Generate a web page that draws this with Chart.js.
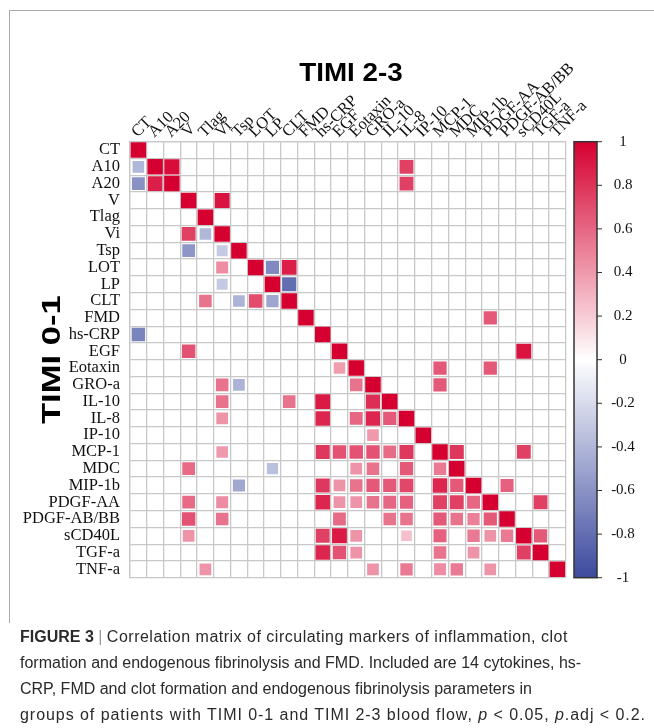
<!DOCTYPE html>
<html>
<head>
<meta charset="utf-8">
<script src="https://cdn.jsdelivr.net/npm/chart.js@4.4.1/dist/chart.umd.min.js"></script>
<style>
  html, body { margin: 0; padding: 0; background: #fff; }
  body { width: 654px; height: 728px; position: relative; overflow: hidden; }
  #frame { position: absolute; left: 9px; top: 10px; width: 700px; height: 612px;
           border-left: 1.5px solid #aaa; border-top: 1.5px solid #aaa; }
  #wrap { position: absolute; left: 0; top: 0; width: 654px; height: 625px; }
  #caption { position: absolute; left: 20px; top: 624px; white-space: nowrap;
             font-family: "Liberation Sans", Arial, sans-serif; font-size: 16px;
             line-height: 26px; color: #2a2a2a; }
  #caption .sep { color: #999; }
  #caption .l1 { letter-spacing: 0.5px; }
  #caption .l4 { letter-spacing: 0.95px; }
</style>
</head>
<body>
<div id="frame"></div>
<div id="wrap"><canvas id="corrChart" width="654" height="625"></canvas></div>
<div id="caption"><b>FIGURE 3</b> <span class="sep">|</span> <span class="l1">Correlation matrix of circulating markers of inflammation, clot</span><br>formation and endogenous fibrinolysis and FMD. Included are 14 cytokines, hs-<br>CRP, FMD and clot formation and endogenous fibrinolysis parameters in<br><span class="l4">groups of patients with TIMI 0-1 and TIMI 2-3 blood flow, <i>p</i> &lt; 0.05, <i>p</i>.adj &lt; 0.2.</span></div>
<script>
// markers (rows = TIMI 0-1, columns = TIMI 2-3)
const markers = ['CT', 'A10', 'A20', 'V', 'Tlag', 'Vi', 'Tsp', 'LOT', 'LP', 'CLT', 'FMD', 'hs-CRP', 'EGF',
  'Eotaxin', 'GRO-a', 'IL-10', 'IL-8', 'IP-10', 'MCP-1', 'MDC', 'MIP-1b', 'PDGF-AA', 'PDGF-AB/BB',
  'sCD40L', 'TGF-a', 'TNF-a'];

// correlation values, 0 = not significant (blank cell)
const corr = [
  [1, 0, 0, 0, 0, 0, 0, 0, 0, 0, 0, 0, 0, 0, 0, 0, 0, 0, 0, 0, 0, 0, 0, 0, 0, 0],
  [-.4, 1, .95, 0, 0, 0, 0, 0, 0, 0, 0, 0, 0, 0, 0, 0, .75, 0, 0, 0, 0, 0, 0, 0, 0, 0],
  [-.6, .88, 1, 0, 0, 0, 0, 0, 0, 0, 0, 0, 0, 0, 0, 0, .75, 0, 0, 0, 0, 0, 0, 0, 0, 0],
  [0, 0, 0, 1, 0, .92, 0, 0, 0, 0, 0, 0, 0, 0, 0, 0, 0, 0, 0, 0, 0, 0, 0, 0, 0, 0],
  [0, 0, 0, 0, 1, 0, 0, 0, 0, 0, 0, 0, 0, 0, 0, 0, 0, 0, 0, 0, 0, 0, 0, 0, 0, 0],
  [0, 0, 0, .75, -.4, 1, 0, 0, 0, 0, 0, 0, 0, 0, 0, 0, 0, 0, 0, 0, 0, 0, 0, 0, 0, 0],
  [0, 0, 0, -.58, 0, -.3, 1, 0, 0, 0, 0, 0, 0, 0, 0, 0, 0, 0, 0, 0, 0, 0, 0, 0, 0, 0],
  [0, 0, 0, 0, 0, .45, 0, 1, -.65, .88, 0, 0, 0, 0, 0, 0, 0, 0, 0, 0, 0, 0, 0, 0, 0, 0],
  [0, 0, 0, 0, 0, -.3, 0, 0, 1, -.8, 0, 0, 0, 0, 0, 0, 0, 0, 0, 0, 0, 0, 0, 0, 0, 0],
  [0, 0, 0, 0, .55, 0, -.42, .7, -.5, 1, 0, 0, 0, 0, 0, 0, 0, 0, 0, 0, 0, 0, 0, 0, 0, 0],
  [0, 0, 0, 0, 0, 0, 0, 0, 0, 0, 1, 0, 0, 0, 0, 0, 0, 0, 0, 0, 0, .65, 0, 0, 0, 0],
  [-.68, 0, 0, 0, 0, 0, 0, 0, 0, 0, 0, 1, 0, 0, 0, 0, 0, 0, 0, 0, 0, 0, 0, 0, 0, 0],
  [0, 0, 0, .68, 0, 0, 0, 0, 0, 0, 0, 0, 1, 0, 0, 0, 0, 0, 0, 0, 0, 0, 0, .92, 0, 0],
  [0, 0, 0, 0, 0, 0, 0, 0, 0, 0, 0, 0, .38, 1, 0, 0, 0, 0, .65, 0, 0, .65, 0, 0, 0, 0],
  [0, 0, 0, 0, 0, .55, -.42, 0, 0, 0, 0, 0, 0, .55, 1, 0, 0, 0, .65, 0, 0, 0, 0, 0, 0, 0],
  [0, 0, 0, 0, 0, .55, 0, 0, 0, .55, 0, .9, 0, 0, .82, 1, 0, 0, 0, 0, 0, 0, 0, 0, 0, 0],
  [0, 0, 0, 0, 0, .42, 0, 0, 0, 0, 0, .85, 0, .6, .85, .65, 1, 0, 0, 0, 0, 0, 0, 0, 0, 0],
  [0, 0, 0, 0, 0, 0, 0, 0, 0, 0, 0, 0, 0, 0, .4, 0, 0, 1, 0, 0, 0, 0, 0, 0, 0, 0],
  [0, 0, 0, 0, 0, .4, 0, 0, 0, 0, 0, .78, .68, .68, .68, .58, .78, 0, 1, .78, 0, 0, 0, .75, 0, 0],
  [0, 0, 0, .58, 0, 0, 0, 0, -.35, 0, 0, 0, 0, .42, .55, 0, .65, 0, .52, 1, 0, 0, 0, 0, 0, 0],
  [0, 0, 0, 0, 0, 0, -.48, 0, 0, 0, 0, .78, .42, .55, .65, .65, .72, 0, .85, .65, 1, 0, .62, 0, 0, 0],
  [0, 0, 0, .58, 0, .45, 0, 0, 0, 0, 0, .85, .42, .42, .55, .6, .62, 0, .75, .75, .6, 1, 0, 0, .75, 0],
  [0, 0, 0, .68, 0, .55, 0, 0, 0, 0, 0, 0, .58, 0, 0, .55, .55, 0, .65, .55, .5, .65, 1, 0, 0, 0],
  [0, 0, 0, .42, 0, 0, 0, 0, 0, 0, 0, .75, .9, .42, 0, 0, .25, 0, .62, 0, .52, .42, .52, 1, .65, 0],
  [0, 0, 0, 0, 0, 0, 0, 0, 0, 0, 0, .85, .68, .42, 0, 0, 0, 0, .55, 0, .42, 0, 0, .75, 1, 0],
  [0, 0, 0, 0, .42, 0, 0, 0, 0, 0, 0, 0, 0, 0, .42, 0, .52, 0, .45, .52, 0, .42, 0, 0, 0, 1]
];

// colour bar ticks
const cbTicks = [1, 0.8, 0.6, 0.4, 0.2, 0, -0.2, -0.4, -0.6, -0.8, -1];

const serif = '"Liberation Serif", "Times New Roman", serif';
const sans = '"Liberation Sans", Arial, sans-serif';

function corrColor(v) {
  const a = Math.min(1, Math.abs(v));
  const end = v >= 0 ? [214, 0, 48] : [60, 74, 158];
  const c = end.map(e => Math.round(255 + (e - 255) * a));
  return 'rgb(' + c.join(',') + ')';
}

// side of the square in px grows with |r|
function squareSide(v) {
  return 9 + 6.5 * Math.abs(v);
}

const points = [];
corr.forEach((row, r) => {
  row.forEach((v, c) => {
    if (v !== 0) points.push({ x: markers[c], y: markers[r], v: v });
  });
});

// titles + colour bar
const decorPlugin = {
  id: 'decor',
  afterDraw(chart) {
    const { ctx, chartArea } = chart;
    const cb = chart.scales.cb;
    ctx.save();

    ctx.fillStyle = '#000';
    ctx.font = 'bold 26px ' + sans;
    ctx.textAlign = 'center';
    ctx.textBaseline = 'middle';
    ctx.save();
    ctx.translate(351, 74);
    ctx.scale(1.07, 1);
    ctx.fillText('TIMI 2-3', 0, 0);
    ctx.restore();

    ctx.save();
    ctx.translate(53, (chartArea.top + chartArea.bottom) / 2);
    ctx.rotate(-Math.PI / 2);
    ctx.scale(1.33, 1);
    ctx.fillText('TIMI 0-1', 0, 0);
    ctx.restore();

    const x0 = 574, x1 = 597;
    const top = cb.getPixelForValue(1), bottom = cb.getPixelForValue(-1);
    const grad = ctx.createLinearGradient(0, top, 0, bottom);
    for (let i = 0; i <= 20; i++) {
      grad.addColorStop(i / 20, corrColor(1 - i / 10));
    }
    ctx.fillStyle = grad;
    ctx.fillRect(x0, top, x1 - x0, bottom - top);
    ctx.strokeStyle = '#333';
    ctx.lineWidth = 1.5;
    ctx.strokeRect(x0, top, x1 - x0, bottom - top);

    ctx.font = '15px ' + serif;
    ctx.fillStyle = '#111';
    ctx.lineWidth = 1;
    cbTicks.forEach(t => {
      const y = cb.getPixelForValue(t);
      ctx.beginPath();
      ctx.moveTo(x1, y);
      ctx.lineTo(x1 + 5, y);
      ctx.stroke();
      ctx.fillText(String(t), 623, y);
    });
    ctx.restore();
  }
};

new Chart(document.getElementById('corrChart'), {
  type: 'scatter',
  data: {
    datasets: [{
      data: points,
      pointStyle: 'rect',
      pointRadius: c => squareSide(c.raw.v) / (2 * Math.SQRT1_2),
      pointBackgroundColor: c => corrColor(c.raw.v),
      pointBorderWidth: 0
    }]
  },
  options: {
    responsive: false,
    animation: false,
    events: [],
    layout: { padding: { left: 0, top: 0, right: 88.3, bottom: 47.3 } },
    plugins: { legend: { display: false }, tooltip: { enabled: false } },
    scales: {
      x: {
        type: 'category',
        labels: markers,
        position: 'top',
        offset: true,
        grid: { offset: true, color: '#c8c8c8', lineWidth: 1.3, drawTicks: false },
        border: { color: '#c8c8c8', width: 1.3 },
        ticks: { autoSkip: false, minRotation: 45, maxRotation: 45, padding: 0, labelOffset: 10,
                 color: '#111', font: { family: serif, size: 16.5 } },
        afterFit: s => { s.height = 141.7; }
      },
      y: {
        type: 'category',
        labels: markers,
        position: 'left',
        offset: true,
        grid: { offset: true, color: '#c8c8c8', lineWidth: 1.3, drawTicks: false },
        border: { color: '#c8c8c8', width: 1.3 },
        ticks: { autoSkip: false, padding: 10, color: '#111', font: { family: serif, size: 16.5 } },
        afterFit: s => { s.width = 130; }
      },
      cb: { type: 'linear', axis: 'y', position: 'right', min: -1, max: 1, display: false }
    }
  },
  plugins: [decorPlugin]
});
</script>
</body>
</html>
